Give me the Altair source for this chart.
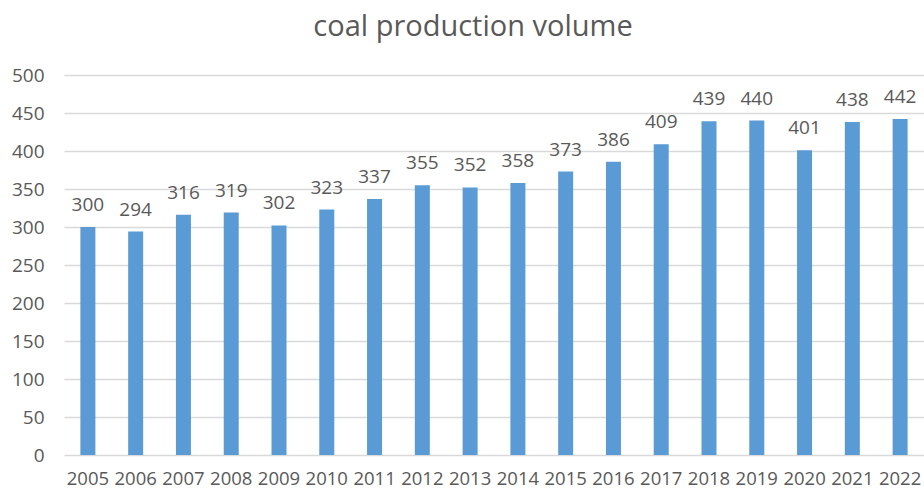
import altair as alt
import pandas as pd

years = ["2005", "2006", "2007", "2008", "2009", "2010", "2011", "2012", "2013",
         "2014", "2015", "2016", "2017", "2018", "2019", "2020", "2021", "2022"]
volumes = [300, 294, 316, 319, 302, 323, 337, 355, 352, 358, 373, 386, 409, 439,
           440, 401, 438, 442]

df = pd.DataFrame({"year": years, "volume": volumes})

FONT = "Open Sans"
GRAY = "#595959"

base = alt.Chart(df).encode(
    x=alt.X("year:N", sort=None,
            scale=alt.Scale(paddingInner=0.686, paddingOuter=0.343),
            axis=alt.Axis(title=None, labelAngle=0, ticks=False, domain=False,
                          grid=False, labelFont=FONT, labelFontSize=18.5,
                          labelColor=GRAY, labelPadding=14)),
    y=alt.Y("volume:Q",
            scale=alt.Scale(domain=[0, 500], nice=False),
            axis=alt.Axis(title=None, values=list(range(0, 501, 50)),
                          ticks=False, domain=False, grid=True,
                          gridColor="#D9D9D9", gridWidth=1.3,
                          labelFont=FONT, labelFontSize=19, labelColor=GRAY,
                          labelPadding=20)),
)

bars = base.mark_bar(color="#5B9BD5")
labels = base.mark_text(font=FONT, fontSize=19, color=GRAY, dy=-16,
                        baseline="alphabetic").encode(text="volume:Q")

chart = (bars + labels).properties(
    width=860, height=380,
    padding={"left": 64, "top": 75, "right": 0, "bottom": 34},
    autosize=alt.AutoSizeParams(type="none"),
    title=alt.TitleParams("coal production volume", font=FONT, fontSize=29,
                          fontWeight="normal", color=GRAY, offset=24, dx=-21,
                          anchor="middle"),
).configure_view(stroke=None)

chart.save("out.html", embed_options={"renderer": "svg", "actions": False})
